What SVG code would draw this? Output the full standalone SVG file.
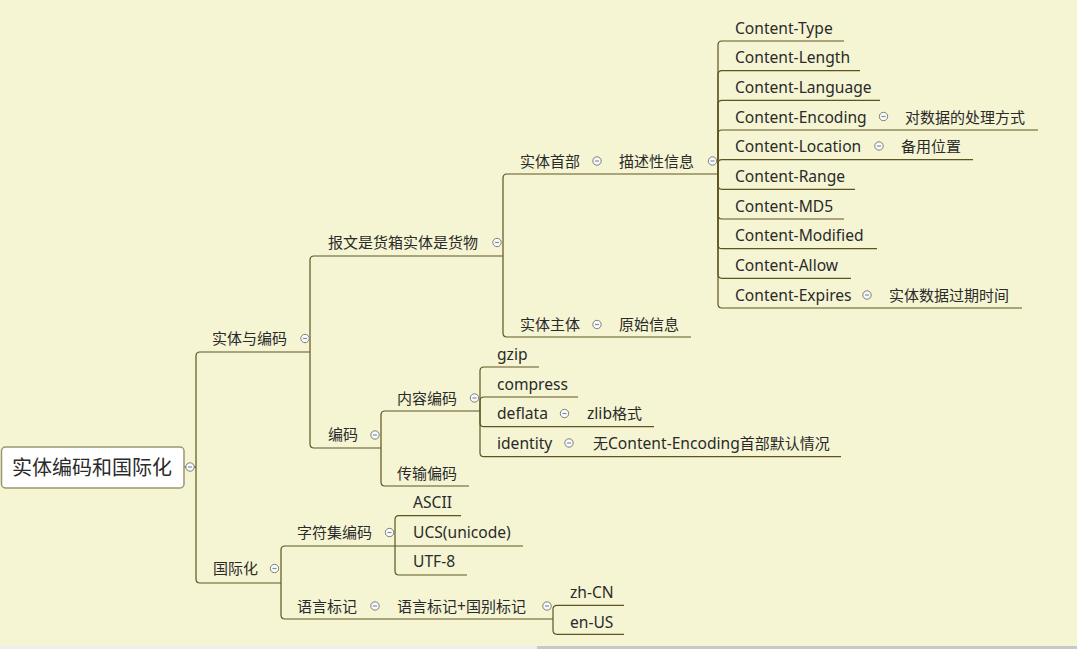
<svg xmlns="http://www.w3.org/2000/svg" width="1077" height="649" viewBox="0 0 1077 649">
<style>
text{font-family:"Noto Sans","Noto Sans CJK SC",sans-serif;font-size:15px;fill:#2a2a2a}
.l{font-size:15.6px}
.root{font-size:20px}
.c{fill:none;stroke:#5e5420;stroke-width:1.2}
</style>
<defs>
<g id="col"><circle cx="0" cy="0" r="4.2" fill="#fafaf6" stroke="#7f7f78" stroke-width="1"/><line x1="-2" y1="0" x2="2" y2="0" stroke="#7b8bc4" stroke-width="1.2"/></g>
</defs>
<rect x="0" y="0" width="1077" height="649" fill="#f5f5d3"/>
<rect x="0" y="646" width="537" height="3" fill="#eeeeee"/>
<rect x="537" y="646" width="540" height="3" fill="#c8c8c8"/>

<g id="connectors">
<path class="c" d="M184,467 H196"/>
<path class="c" d="M196,467 V356 Q196,352 200,352 H310"/>
<path class="c" d="M196,467 V579 Q196,583 200,583 H281"/>
<path class="c" d="M310,352 V260 Q310,256 314,256 H503"/>
<path class="c" d="M310,352 V444 Q310,448 314,448 H381"/>
<path class="c" d="M503,256 V178 Q503,174 507,174 H718"/>
<path class="c" d="M503,256 V333 Q503,337 507,337 H691"/>
<path class="c" d="M718,174 V45 Q718,41 722,41 H844"/>
<path class="c" d="M718,174 V74.7 Q718,70.7 722,70.7 H860"/>
<path class="c" d="M718,174 V104.3 Q718,100.3 722,100.3 H880"/>
<path class="c" d="M718,174 V134 Q718,130 722,130 H1038"/>
<path class="c" d="M718,174 V163.7 Q718,159.7 722,159.7 H973"/>
<path class="c" d="M718,174 V185.3 Q718,189.3 722,189.3 H855"/>
<path class="c" d="M718,174 V215 Q718,219 722,219 H844"/>
<path class="c" d="M718,174 V244.7 Q718,248.7 722,248.7 H877"/>
<path class="c" d="M718,174 V274.3 Q718,278.3 722,278.3 H851"/>
<path class="c" d="M718,174 V304 Q718,308 722,308 H1022"/>
<path class="c" d="M381,448 V415 Q381,411 385,411 H480"/>
<path class="c" d="M381,448 V482 Q381,486 385,486 H469"/>
<path class="c" d="M480,411 V371 Q480,367 484,367 H539"/>
<path class="c" d="M480,411 V401 Q480,397 484,397 H578"/>
<path class="c" d="M480,411 V422.7 Q480,426.7 484,426.7 H654"/>
<path class="c" d="M480,411 V452.7 Q480,456.7 484,456.7 H841"/>
<path class="c" d="M281,583 V550 Q281,546 285,546 H395"/>
<path class="c" d="M281,583 V615 Q281,619 285,619 H553"/>
<path class="c" d="M395,546 V519.7 Q395,515.7 399,515.7 H461"/>
<path class="c" d="M395,546 H523"/>
<path class="c" d="M395,546 V571 Q395,575 399,575 H467"/>
<path class="c" d="M553,619 V609.3 Q553,605.3 557,605.3 H624"/>
<path class="c" d="M553,619 V630.3 Q553,634.3 557,634.3 H624"/>
</g>

<g id="root">
<rect x="1.5" y="447" width="182.5" height="41" rx="4" fill="#ffffff" stroke="#9a9670" stroke-width="1.5"/>
<text class="root" x="12" y="474.5">实体编码和国际化</text>
<use href="#col" x="190" y="467"/>
</g>
<g id="n-stbm"><text x="212" y="343.5">实体与编码</text><use href="#col" x="305" y="338.5"/></g>
<g id="n-bw"><text x="328" y="248">报文是货箱实体是货物</text><use href="#col" x="497" y="242.5"/></g>
<g id="n-stsb"><text x="520" y="166.5">实体首部</text><use href="#col" x="597" y="161"/></g>
<g id="n-msxx"><text x="619" y="166.5">描述性信息</text><use href="#col" x="712.5" y="161"/></g>
<g id="n-stzt"><text x="520" y="329.5">实体主体</text><use href="#col" x="597" y="324.5"/></g>
<g id="n-ysxx"><text x="619" y="329.5">原始信息</text></g>
<g id="n-ct1"><text class="l" x="735" y="33.5">Content-Type</text></g>
<g id="n-ct2"><text class="l" x="735" y="63.2">Content-Length</text></g>
<g id="n-ct3"><text class="l" x="735" y="92.8">Content-Language</text></g>
<g id="n-ct4"><text class="l" x="735" y="122.5">Content-Encoding</text><use href="#col" x="883.5" y="116.5"/></g>
<g id="n-ct4a"><text x="905" y="122.5">对数据的处理方式</text></g>
<g id="n-ct5"><text class="l" x="735" y="152.2">Content-Location</text><use href="#col" x="879" y="146"/></g>
<g id="n-ct5a"><text x="901" y="152">备用位置</text></g>
<g id="n-ct6"><text class="l" x="735" y="181.8">Content-Range</text></g>
<g id="n-ct7"><text class="l" x="735" y="211.5">Content-MD5</text></g>
<g id="n-ct8"><text class="l" x="735" y="241.2">Content-Modified</text></g>
<g id="n-ct9"><text class="l" x="735" y="270.8">Content-Allow</text></g>
<g id="n-ct10"><text class="l" x="735" y="300.5">Content-Expires</text><use href="#col" x="867" y="295"/></g>
<g id="n-ct10a"><text x="889" y="300.5">实体数据过期时间</text></g>
<g id="n-bm"><text x="328" y="440">编码</text><use href="#col" x="375" y="435"/></g>
<g id="n-nrbm"><text x="397" y="403.5">内容编码</text><use href="#col" x="474.5" y="398"/></g>
<g id="n-csbm"><text x="397" y="478.5">传输偏码</text></g>
<g id="n-gzip"><text class="l" x="497" y="359.5">gzip</text></g>
<g id="n-compress"><text class="l" x="497" y="389.5">compress</text></g>
<g id="n-deflata"><text class="l" x="497" y="419">deflata</text><use href="#col" x="564.5" y="413.5"/></g>
<g id="n-zlib"><text x="587" y="419"><tspan class="l">zlib</tspan>格式</text></g>
<g id="n-identity"><text class="l" x="497" y="449">identity</text><use href="#col" x="569" y="443"/></g>
<g id="n-identitya"><text x="593" y="449">无<tspan class="l">Content-Encoding</tspan>首部默认情况</text></g>
<g id="n-gjh"><text x="213" y="574">国际化</text><use href="#col" x="274.5" y="568.5"/></g>
<g id="n-zfj"><text x="297" y="538">字符集编码</text><use href="#col" x="389.5" y="532.5"/></g>
<g id="n-ascii"><text class="l" x="413" y="508">ASCII</text></g>
<g id="n-ucs"><text class="l" x="413" y="538">UCS(unicode)</text></g>
<g id="n-utf8"><text class="l" x="413" y="567">UTF-8</text></g>
<g id="n-yybj"><text x="297" y="611.5">语言标记</text><use href="#col" x="375" y="606"/></g>
<g id="n-yybj2"><text x="397" y="611.5">语言标记<tspan class="l">+</tspan>国别标记</text><use href="#col" x="547" y="606"/></g>
<g id="n-zhcn"><text class="l" x="570" y="597.5">zh-CN</text></g>
<g id="n-enus"><text class="l" x="570" y="627.5">en-US</text></g>
</svg>
